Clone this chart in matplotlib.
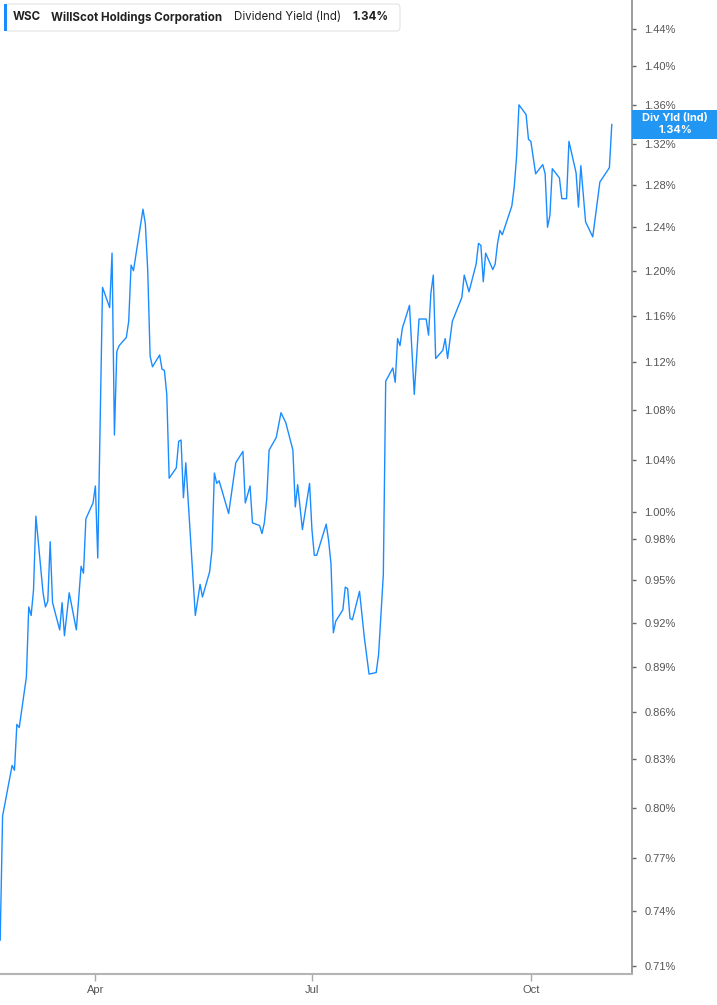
import matplotlib
matplotlib.use("Agg")
import matplotlib.pyplot as plt
import matplotlib.dates as mdates
from matplotlib.patches import Rectangle, FancyBboxPatch
from matplotlib.ticker import FixedLocator, FixedFormatter, NullLocator
import pandas as pd

ticker = "WSC"
company = "WillScot Holdings Corporation"
metric = "Dividend Yield (Ind)"
last_label = "1.34%"

dates = [
    "2025-02-20", "2025-02-21", "2025-02-25", "2025-02-26", "2025-02-27", "2025-02-28",
    "2025-03-03", "2025-03-04", "2025-03-05", "2025-03-06", "2025-03-07",
    "2025-03-10", "2025-03-11", "2025-03-12", "2025-03-13", "2025-03-14",
    "2025-03-17", "2025-03-18", "2025-03-19", "2025-03-21",
    "2025-03-24", "2025-03-26", "2025-03-27", "2025-03-28",
    "2025-03-31", "2025-04-01", "2025-04-02", "2025-04-04",
    "2025-04-07", "2025-04-08", "2025-04-09", "2025-04-10", "2025-04-11",
    "2025-04-14", "2025-04-15", "2025-04-16", "2025-04-17",
    "2025-04-21", "2025-04-22", "2025-04-23", "2025-04-24", "2025-04-25",
    "2025-04-28", "2025-04-29", "2025-04-30", "2025-05-01", "2025-05-02",
    "2025-05-05", "2025-05-06", "2025-05-07", "2025-05-08", "2025-05-09",
    "2025-05-13", "2025-05-15", "2025-05-16",
    "2025-05-19", "2025-05-20", "2025-05-21", "2025-05-22", "2025-05-23",
    "2025-05-27", "2025-05-30",
    "2025-06-02", "2025-06-03", "2025-06-05", "2025-06-06",
    "2025-06-09", "2025-06-10", "2025-06-11", "2025-06-12", "2025-06-13",
    "2025-06-16", "2025-06-18", "2025-06-20",
    "2025-06-23", "2025-06-24", "2025-06-25", "2025-06-27",
    "2025-06-30", "2025-07-01", "2025-07-02", "2025-07-03",
    "2025-07-07", "2025-07-08", "2025-07-09", "2025-07-10", "2025-07-11",
    "2025-07-14", "2025-07-15", "2025-07-16", "2025-07-17", "2025-07-18",
    "2025-07-21", "2025-07-23", "2025-07-25",
    "2025-07-28", "2025-07-29", "2025-07-31", "2025-08-01",
    "2025-08-04", "2025-08-05", "2025-08-06", "2025-08-07", "2025-08-08",
    "2025-08-11", "2025-08-13", "2025-08-15",
    "2025-08-18", "2025-08-19", "2025-08-20", "2025-08-21", "2025-08-22",
    "2025-08-25", "2025-08-26", "2025-08-27", "2025-08-29",
    "2025-09-02", "2025-09-03", "2025-09-05",
    "2025-09-08", "2025-09-09", "2025-09-10", "2025-09-11", "2025-09-12",
    "2025-09-15", "2025-09-16", "2025-09-17", "2025-09-18", "2025-09-19",
    "2025-09-23", "2025-09-24", "2025-09-25", "2025-09-26",
    "2025-09-29", "2025-09-30", "2025-10-01", "2025-10-03",
    "2025-10-06", "2025-10-07", "2025-10-08", "2025-10-09", "2025-10-10",
    "2025-10-13", "2025-10-14", "2025-10-16", "2025-10-17",
    "2025-10-20", "2025-10-21", "2025-10-22", "2025-10-24",
    "2025-10-27", "2025-10-30",
    "2025-11-03", "2025-11-04",
]

div_yield = [
    0.724, 0.795, 0.826, 0.823, 0.852, 0.850,
    0.883, 0.931, 0.925, 0.943, 0.997,
    0.941, 0.931, 0.935, 0.978, 0.934,
    0.915, 0.934, 0.911, 0.941,
    0.915, 0.960, 0.955, 0.995,
    1.007, 1.020, 0.966, 1.185,
    1.167, 1.216, 1.060, 1.129, 1.134,
    1.141, 1.155, 1.205, 1.200,
    1.257, 1.243, 1.200, 1.125, 1.116,
    1.126, 1.114, 1.113, 1.093, 1.026,
    1.034, 1.055, 1.056, 1.011, 1.038,
    0.925, 0.947, 0.938,
    0.956, 0.972, 1.030, 1.022, 1.024,
    0.999, 1.038,
    1.047, 1.007, 1.020, 0.992,
    0.990, 0.984, 0.992, 1.010, 1.048,
    1.058, 1.078, 1.070,
    1.048, 1.004, 1.021, 0.987,
    1.022, 0.987, 0.968, 0.968,
    0.991, 0.979, 0.962, 0.913, 0.921,
    0.929, 0.945, 0.944, 0.923, 0.922,
    0.942, 0.910, 0.885,
    0.886, 0.898, 0.954, 1.104,
    1.115, 1.103, 1.140, 1.134, 1.149,
    1.169, 1.093, 1.157,
    1.157, 1.143, 1.180, 1.196, 1.123,
    1.130, 1.140, 1.123, 1.155,
    1.176, 1.196, 1.181,
    1.206, 1.225, 1.223, 1.190, 1.216,
    1.201, 1.206, 1.225, 1.237, 1.233,
    1.260, 1.278, 1.308, 1.360,
    1.350, 1.325, 1.323, 1.291,
    1.300, 1.291, 1.240, 1.251, 1.296,
    1.287, 1.267, 1.267, 1.323,
    1.292, 1.259, 1.299, 1.245,
    1.231, 1.283,
    1.297, 1.340,
]

y_ticks = [0.71, 0.74, 0.77, 0.80, 0.83, 0.86, 0.89, 0.92, 0.95, 0.98, 1.00,
           1.04, 1.08, 1.12, 1.16, 1.20, 1.24, 1.28, 1.32, 1.36, 1.40, 1.44]
x_ticks = ["2025-04-01", "2025-07-01", "2025-10-01"]
x_labels = ["Apr", "Jul", "Oct"]

blue = "#1a8cff"
W, H = 717, 1005

plt.rcParams["font.family"] = ["Inter", "DejaVu Sans"]

fig = plt.figure(figsize=(W / 100, H / 100), dpi=100)
ax = fig.add_axes([0, 31 / H, 632 / W, 1 - 31 / H])

x = pd.to_datetime(dates)
ax.plot(x, div_yield, color=blue, lw=1.0)

ax.set_yscale("log")
ax.set_ylim(0.7057, 1.472)
ax.set_xlim(pd.Timestamp("2025-02-19 22:00"), pd.Timestamp("2025-11-12 12:00"))

ax.yaxis.set_major_locator(FixedLocator(y_ticks))
ax.yaxis.set_major_formatter(FixedFormatter([f"{v:.2f}%" for v in y_ticks]))
ax.yaxis.set_minor_locator(NullLocator())
ax.yaxis.tick_right()
ax.tick_params(axis="y", length=3, width=1, color="#666666", labelcolor="#555555",
               labelsize=8, pad=6)

ax.set_xticks(pd.to_datetime(x_ticks))
ax.set_xticklabels(x_labels)
ax.tick_params(axis="x", length=5, width=1, color="#aaaaaa", labelcolor="#555555",
               labelsize=8, pad=3)

for lab in ax.get_yticklabels() + ax.get_xticklabels():
    lab.set_fontfamily(["Liberation Sans", "DejaVu Sans"])

for side in ["top", "left"]:
    ax.spines[side].set_visible(False)
ax.spines["right"].set_color("#8c8c8c")
ax.spines["bottom"].set_color("#b4b4b4")
ax.spines["right"].set_linewidth(1.2)
ax.spines["bottom"].set_linewidth(1.5)


def fx(px):
    return px / W


def fy(py):
    return 1 - py / H


# header box
fig.patches.append(FancyBboxPatch((fx(5), fy(31)), fx(395), 27 / H,
                                  boxstyle="round,pad=0,rounding_size=0.004",
                                  transform=fig.transFigure, facecolor="white",
                                  edgecolor="#e3e3e3", lw=0.8))
fig.patches.append(Rectangle((fx(4), fy(31)), fx(3), 27 / H, transform=fig.transFigure,
                             facecolor=blue, edgecolor="none"))
ty = fy(17.5)
fig.text(fx(13), ty, ticker, fontsize=8.3, fontweight="bold", color="#222222", va="center")
fig.text(fx(51), ty, company, fontsize=8.3, fontweight="bold", color="#222222", va="center")
fig.text(fx(234), ty, metric, fontsize=8.3, color="#222222", va="center")
fig.text(fx(352), ty, last_label, fontsize=8.3, fontweight="bold", color="#222222", va="center")

# last value tag on the axis
fig.canvas.draw()
px, py = ax.transData.transform((mdates.date2num(ax.get_xlim()[1]), div_yield[-1]))
tag_h = 29
fig.patches.append(Rectangle((fx(632), (py - tag_h / 2) / H), fx(85), tag_h / H,
                             transform=fig.transFigure, facecolor="#2196f3",
                             edgecolor="none"))
fig.text(fx(675), (py + 6) / H, "Div Yld (Ind)", fontsize=7.9, fontweight="bold",
         color="white", ha="center", va="center")
fig.text(fx(675), (py - 6) / H, last_label, fontsize=7.9, fontweight="bold",
         color="white", ha="center", va="center")

fig.savefig("out.png", dpi=100)
